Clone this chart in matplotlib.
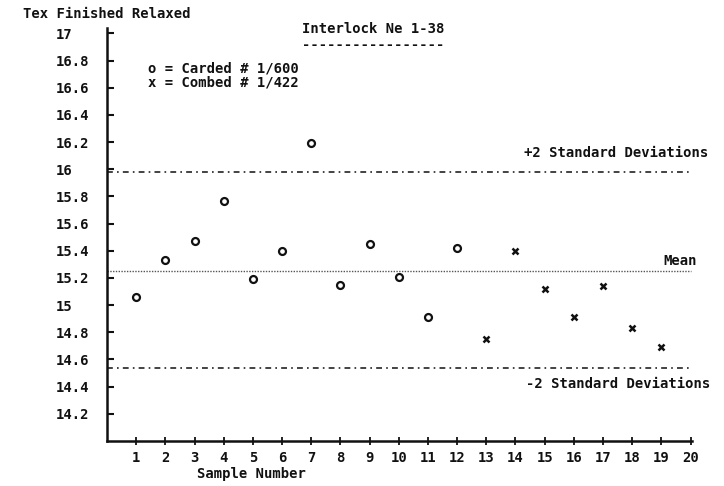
import matplotlib
matplotlib.use("Agg")
import matplotlib.pyplot as plt

# ---- data ----
carded_samples = [1, 2, 3, 4, 5, 6, 7, 8, 9, 10, 11, 12]
carded_tex = [15.06, 15.33, 15.47, 15.77, 15.19, 15.40, 16.19, 15.15, 15.45, 15.21, 14.91, 15.42]
combed_samples = [13, 14, 15, 16, 17, 18, 19]
combed_tex = [14.75, 15.40, 15.12, 14.91, 15.14, 14.83, 14.69]
mean_value = 15.25
upper_limit = 15.98
lower_limit = 14.54
x_ticks = list(range(1, 21))
y_ticks = [14.2, 14.4, 14.6, 14.8, 15.0, 15.2, 15.4, 15.6, 15.8, 16.0, 16.2, 16.4, 16.6, 16.8, 17.0]
y_tick_labels = ["14.2", "14.4", "14.6", "14.8", "15", "15.2", "15.4", "15.6",
                 "15.8", "16", "16.2", "16.4", "16.6", "16.8", "17"]

W, H = 724, 486
FONT = "DejaVu Sans Mono"
FS = 10
INK = "#111111"

fig = plt.figure(figsize=(W / 100, H / 100), dpi=100)
ax = fig.add_axes([107 / W, 1 - 441 / H, (692 - 107) / W, (441 - 28) / H])
ax.set_xlim(0.0, 20.05)
ax.set_ylim(14.0, 17.04)

for s in ("top", "right"):
    ax.spines[s].set_visible(False)
for s in ("left", "bottom"):
    ax.spines[s].set_linewidth(1.8)
    ax.spines[s].set_color(INK)

# reference lines
ax.plot([0.0, 20.0], [upper_limit, upper_limit], color="#222222", lw=1.2,
        linestyle=(0, (3.5, 2.5, 1, 2.5)))
ax.plot([0.0, 20.0], [mean_value, mean_value], color="#555555", lw=1.0,
        linestyle=(0, (1, 1)))
ax.plot([0.0, 20.0], [lower_limit, lower_limit], color="#222222", lw=1.2,
        linestyle=(0, (3.5, 2.5, 1, 2.5)))

# points
ax.plot(carded_samples, carded_tex, linestyle="none", marker="o", markersize=5,
        markerfacecolor="white", markeredgecolor=INK, markeredgewidth=1.6)
ax.plot(combed_samples, combed_tex, linestyle="none", marker="x", markersize=4.5,
        color=INK, markeredgewidth=1.8)

# ticks
ax.set_xticks(x_ticks)
ax.set_xticklabels([str(v) for v in x_ticks], fontfamily=FONT, fontsize=FS,
                   color=INK, fontweight="bold")
ax.tick_params(axis="x", direction="inout", length=6, width=1.3, color=INK, pad=4)
ax.set_yticks(y_ticks)
ax.set_yticklabels(y_tick_labels, fontfamily=FONT, fontsize=FS, color=INK, ha="left",
                   fontweight="bold")
ax.tick_params(axis="y", direction="in", length=5, width=1.5, color=INK, pad=37)


def ftext(x, y, s, ha="left"):
    fig.text(x / W, 1 - y / H, s, fontfamily=FONT, fontsize=FS, color=INK,
             ha=ha, va="center", fontweight="bold")


ftext(23, 14, "Tex Finished Relaxed")
ftext(302, 29, "Interlock Ne 1-38")
ftext(302, 45, "-" * 17)
ftext(148, 69, "o = Carded # 1/600")
ftext(148, 83, "x = Combed # 1/422")
ftext(708, 153, "+2 Standard Deviations", ha="right")
ftext(697, 261, "Mean", ha="right")
ftext(710, 384, "-2 Standard Deviations", ha="right")
ftext(197, 474, "Sample Number")

fig.savefig("out.png", dpi=100)
